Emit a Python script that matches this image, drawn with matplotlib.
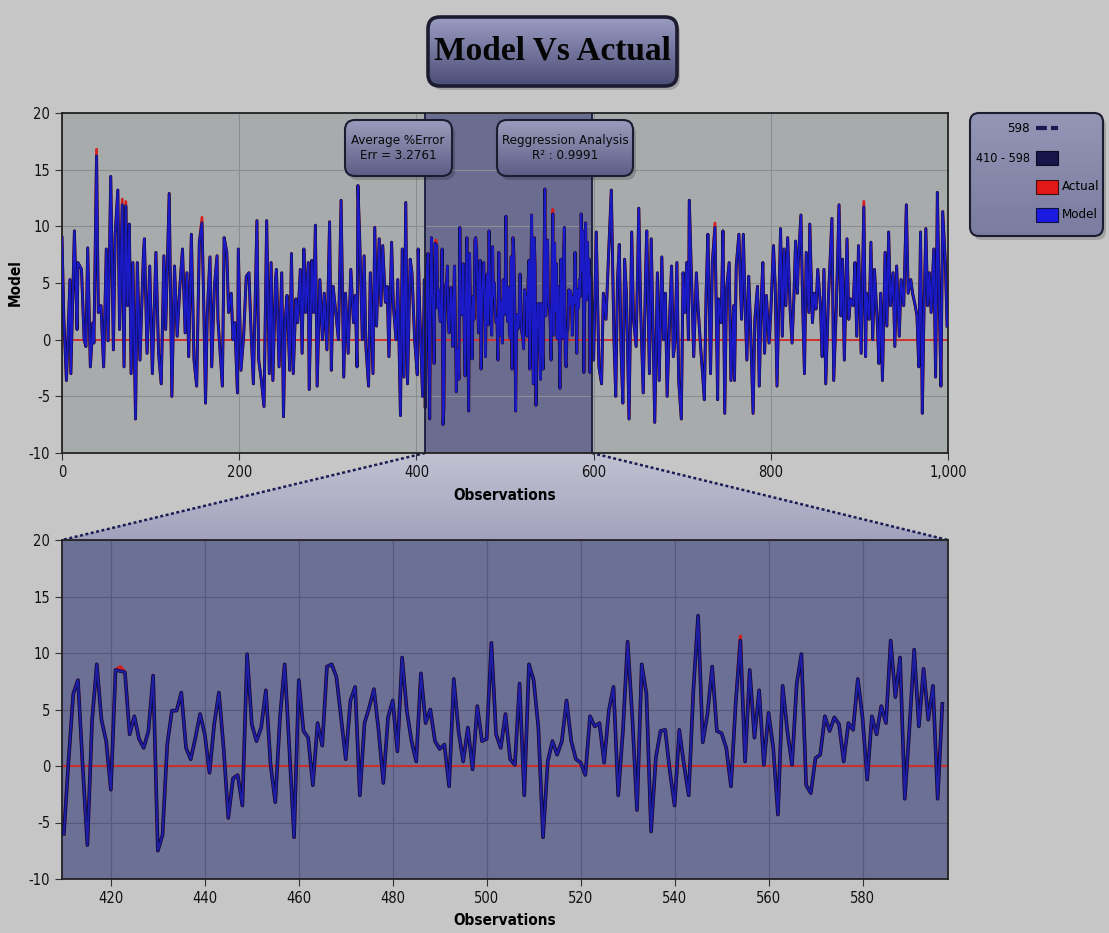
import numpy as np
import matplotlib
matplotlib.use("Agg")
import matplotlib.pyplot as plt
import matplotlib.patheffects as pe
from matplotlib.patches import FancyBboxPatch, Polygon, Rectangle
from matplotlib.colors import LinearSegmentedColormap

plt.rcParams['font.family'] = ['DejaVu Sans', 'Liberation Sans']
plt.rcParams['font.stretch'] = 'condensed'
plt.rcParams['axes.unicode_minus'] = False

# ---- data ----
# observations 0..409 (peaks/troughs as seen in the overview)
left_obs = [0, 2, 5, 9, 10, 14, 17, 18, 22, 25, 27, 29, 32, 35, 36, 39, 41, 44, 47, 50,
            52, 55, 58, 60, 63, 65, 68, 70, 72, 74, 76, 78, 80, 83, 85, 88, 92, 93, 96, 99,
            102, 106, 109, 112, 115, 117, 121, 124, 127, 130, 133, 136, 139, 141, 143, 146, 149, 152, 155, 158,
            160, 162, 164, 167, 169, 172, 175, 176, 179, 181, 183, 186, 188, 191, 193, 195, 198, 199, 202, 205,
            208, 211, 213, 216, 220, 222, 225, 228, 231, 234, 236, 238, 241, 242, 245, 248, 250, 252, 254, 257,
            259, 261, 264, 266, 269, 271, 273, 275, 278, 279, 282, 284, 286, 288, 291, 294, 296, 299, 302, 304,
            306, 309, 312, 315, 318, 320, 323, 326, 329, 331, 333, 334, 336, 339, 341, 343, 346, 348, 351, 353,
            355, 358, 360, 362, 365, 367, 369, 372, 374, 377, 379, 382, 384, 386, 388, 390, 393, 395, 398, 401,
            402, 404, 407, 409]
left_model = [9.0, 2.0, -3.6, 5.3, -3.0, 9.6, 0.9, 6.8, 6.2, 0.0, -0.6, 8.1, -2.4, 1.5, -0.3, 16.2, 2.4, 3.0, -2.4, 8.0,
              -0.1, 14.4, -0.9, 9.3, 13.2, 0.9, 11.9, -2.4, 11.8, 3.0, 10.2, -3.0, 6.8, -7.0, 6.8, -1.8, 7.7, 8.9, -1.2, 6.5,
              -3.0, 7.7, -1.2, -3.9, 7.4, 0.9, 12.9, -5.0, 6.5, 0.3, 4.7, 8.0, 0.6, 5.9, -1.5, 9.3, -1.8, -4.1, 8.6, 10.3,
              3.0, -5.6, 2.4, 7.3, -2.4, 4.7, 7.4, 1.8, -1.8, -4.1, 9.0, 7.7, 2.4, 4.1, 0.0, 1.5, -4.7, 8.0, -2.7, 0.3,
              5.6, 5.9, 1.5, -3.9, 10.5, -1.8, -3.6, -5.9, 10.5, -3.0, 6.8, -3.6, 5.3, 6.2, -2.4, 5.9, -6.8, 1.8, 3.9, -2.7,
              7.6, -3.0, 3.6, 1.5, 6.2, -1.2, 8.0, 2.4, 6.8, -4.4, 7.0, 2.4, 10.1, -4.1, 5.3, 0.0, 4.1, -0.9, 10.4, -2.7,
              4.7, 2.4, 0.0, 12.3, -3.3, 4.1, -1.2, 6.2, 1.5, 3.9, -2.4, 13.6, 8.9, 0.0, 7.4, -0.6, -4.1, 5.9, -3.0, 9.9,
              1.2, 8.9, 3.0, 8.3, 3.3, 4.7, -1.5, 8.6, 3.0, 0.0, 5.3, -6.7, 8.0, -3.3, 12.1, -3.9, 7.1, 5.9, 0.0, -3.1,
              8.0, 1.8, -5.0, 5.3]

# observations 410..597, every point
zoom_start = 410
zoom_model = [
    -6.0, 0.5, 6.4, 7.6, 0.0, -7.0, 4.0, 9.0, 4.1, 2.2,
    -2.1, 8.5, 8.4, 8.3, 2.8, 4.4, 2.4, 1.6, 3.1, 8.0,
    -7.5, -6.1, 1.9, 4.9, 4.9, 6.5, 1.6, 0.6, 2.5, 4.6,
    2.8, -0.6, 3.7, 6.5, 1.6, -4.6, -1.1, -0.8, -3.5, 9.9,
    3.7, 2.2, 3.4, 6.7, 0.1, -3.2, 4.3, 9.0, 1.5, -6.3,
    7.6, 3.1, 2.5, -1.7, 3.8, 1.8, 8.8, 9.0, 7.9, 4.3,
    0.6, 5.8, 7.0, -2.6, 3.8, 5.2, 6.8, 3.1, -1.5, 4.3,
    5.8, 1.3, 9.6, 4.9, 2.2, 0.4, 8.2, 3.8, 5.0, 2.2,
    1.5, 1.9, -1.8, 7.7, 3.1, 0.4, 3.4, -0.3, 5.3, 2.2,
    2.4, 10.9, 2.8, 1.6, 4.6, 0.6, 0.1, 7.3, -2.6, 9.0,
    7.6, 3.4, -6.3, 0.4, 2.2, 1.0, 2.2, 5.8, 2.2, 0.6,
    0.3, -0.8, 4.4, 3.5, 3.8, 0.3, 4.9, 7.0, -2.6, 3.1,
    11.0, 4.3, -3.9, 9.0, 6.4, -5.8, 0.7, 3.1, 3.2, -0.5,
    -3.5, 3.2, 0.1, -2.6, 6.7, 13.3, 2.1, 4.6, 8.8, 3.1,
    2.9, 1.6, -1.8, 5.5, 11.1, 0.4, 8.5, 2.5, 6.7, 0.1,
    4.7, 1.6, -4.3, 7.1, 3.1, 0.1, 7.3, 9.9, -1.7, -2.4,
    0.7, 1.0, 4.4, 3.1, 4.3, 3.7, 0.4, 3.8, 3.2, 7.7,
    4.3, -1.2, 4.4, 2.8, 5.3, 3.8, 11.1, 6.1, 9.6, -2.9,
    3.4, 10.3, 3.5, 8.6, 4.1, 7.1, -2.9, 5.5]

# observations 600..999 (overview)
right_obs = [600, 603, 606, 609, 611, 614, 617, 620, 623, 625, 627, 629, 631, 633, 635, 637, 640, 643, 645, 648,
             651, 653, 656, 659, 660, 663, 665, 667, 669, 672, 674, 677, 679, 681, 683, 686, 688, 690, 692, 694,
             696, 699, 701, 703, 705, 707, 708, 711, 713, 716, 718, 721, 723, 725, 727, 729, 732, 734, 737, 740,
             741, 744, 746, 748, 750, 753, 755, 758, 759, 761, 764, 767, 769, 771, 773, 775, 777, 780, 782, 785,
             787, 789, 791, 793, 795, 798, 800, 803, 805, 807, 811, 813, 815, 817, 819, 822, 824, 826, 828, 830,
             831, 834, 836, 838, 840, 843, 844, 847, 849, 851, 853, 856, 858, 860, 862, 865, 867, 869, 871, 874,
             877, 879, 881, 883, 886, 888, 890, 893, 895, 897, 899, 902, 905, 907, 908, 911, 913, 915, 917, 920,
             922, 924, 926, 929, 931, 933, 935, 938, 940, 942, 945, 947, 950, 953, 955, 958, 960, 963, 965, 967,
             969, 971, 973, 975, 977, 979, 981, 984, 986, 988, 990, 992, 994, 997, 999]
right_model = [-1.8, 9.5, -2.4, -3.9, 4.1, 1.8, 7.7, 13.2, 0.0, -5.0, 5.3, 8.4, -0.9, -5.6, 7.1, 4.1, -7.0, 9.5, 1.8, -0.6,
               11.6, 3.0, -4.7, 6.8, 9.6, -3.0, 8.9, 1.2, -7.3, 5.9, -3.6, 7.3, 0.0, 4.1, -5.0, 2.4, 6.5, -1.5, 0.0, 6.8,
               -3.6, -7.0, 5.9, 2.4, 6.8, 0.0, 12.3, 4.1, -1.5, 5.9, 2.7, -0.9, -3.0, -5.3, 4.1, 9.3, -3.0, 6.8, 9.9, -5.3,
               3.6, 1.5, 9.6, -6.5, 4.4, 6.8, -3.6, 3.0, -3.6, 6.5, 9.3, 1.8, 9.3, 3.0, -1.8, 5.6, 1.5, -6.5, 1.8, 4.7,
               -4.1, 3.0, 6.8, -1.2, 3.9, -0.3, 2.4, 8.3, 4.7, -4.1, 9.8, 0.3, 8.0, 3.0, 9.0, 2.4, -0.3, 3.6, 8.7, 4.1,
               6.8, 11.0, 3.0, -3.0, 7.7, 2.4, 10.2, 1.5, 4.1, 2.7, 6.2, 3.0, -1.5, 6.2, -3.9, 3.6, 7.1, 10.7, -3.6, 3.0,
               11.9, 2.1, 7.1, -1.8, 8.9, 1.8, 3.6, 3.0, 6.8, 0.3, 8.3, -1.2, 11.7, -1.5, 4.1, 1.8, 8.6, 0.0, 6.2, 1.8,
               -2.1, 4.1, -3.6, 7.7, 1.2, 9.5, 3.0, 5.9, -0.6, 6.5, 0.3, 5.3, 3.0, 11.9, 4.1, 5.3, 4.1, 3.0, 2.1, -2.4,
               9.5, -6.5, 3.0, 9.8, 3.0, 5.9, 2.4, 8.0, -3.3, 13.0, 4.1, -4.1, 11.3, 6.8, 1.2]

# where the red "Actual" series pokes out from under the model line
actual_fix_obs = [39, 68, 72, 158, 422, 554, 737, 905]
actual_fix_vals = [16.8, 12.4, 12.2, 10.8, 8.8, 11.5, 10.3, 12.2]

band_lo, band_hi = 410, 598
err_label = "Average %Error\nErr = 3.2761"
reg_label = "Reggression Analysis\nR\u00b2 : 0.9991"
legend_rows = ["598", "410 - 598", "Actual", "Model"]

zoom_obs = list(range(zoom_start, zoom_start + len(zoom_model)))
obs = np.array(left_obs + zoom_obs + right_obs)
model = np.array(left_model + zoom_model + right_model)
actual = model.copy()
for o, v in zip(actual_fix_obs, actual_fix_vals):
    actual[obs == o] = v

# ---- figure ----
W, H = 1109, 933
fig = plt.figure(figsize=(W / 100, H / 100), dpi=100, facecolor='#c6c6c6')


def px(l, t, r, b):
    return [l / W, 1 - b / H, (r - l) / W, (b - t) / H]


ax1 = fig.add_axes(px(62, 113, 948, 453))
ax2 = fig.add_axes(px(62, 540, 948, 879))
bg = fig.add_axes([0, 0, 1, 1], zorder=-1)
fg = fig.add_axes([0, 0, 1, 1], zorder=5)
for a in (bg, fg):
    a.axis('off')
    a.set_xlim(0, W)
    a.set_ylim(H, 0)
    a.patch.set_alpha(0)

stroke = [pe.Stroke(linewidth=2.1, foreground='#0e0e45'), pe.Normal()]
tick_kw = dict(direction='out', length=5, color='#333333', labelsize=10.5, labelcolor='#111111')

# top overview
ax1.set_facecolor('#a7abac')
ax1.axvspan(band_lo, band_hi, color='#6a6d90', zorder=0.5, lw=0)
ax1.plot(obs, actual, color='#d42020', lw=2.0, zorder=2)
ax1.axhline(0, color='#d03030', lw=1.4, zorder=2.5)
ax1.plot(obs, model, color='#1a1ac8', lw=1.3, zorder=3, path_effects=stroke)
for x in (band_lo, band_hi):
    ax1.axvline(x, color='#1a1a3a', lw=1.3, zorder=4)
ax1.set_xlim(0, 1000)
ax1.set_ylim(-10, 20)
ax1.set_xticks(range(0, 1001, 200))
ax1.set_xticklabels([f"{v:,}" for v in range(0, 1001, 200)])
ax1.set_yticks(range(-10, 21, 5))
ax1.grid(True, color='#8a8e90', lw=0.8)
ax1.set_axisbelow(True)
ax1.tick_params(**tick_kw)
ax1.set_xlabel('Observations', fontsize=11, fontweight='bold', labelpad=6)
ax1.set_ylabel('Model', fontsize=11, fontweight='bold', labelpad=4)

# bottom zoom
zmask = (obs >= band_lo) & (obs < band_hi)
ax2.set_facecolor('#6d7095')
ax2.plot(obs[zmask], actual[zmask], color='#d42020', lw=2.3, zorder=2)
ax2.axhline(0, color='#c83030', lw=1.5, zorder=2.5)
ax2.plot(obs[zmask], model[zmask], color='#1e1ea6', lw=1.4, zorder=3,
         path_effects=[pe.Stroke(linewidth=2.6, foreground='#0c0c40'), pe.Normal()])
ax2.set_xlim(409.6, 598.2)
ax2.set_ylim(-10, 20)
ax2.set_xticks(range(420, 581, 20))
ax2.set_yticks(range(-10, 21, 5))
ax2.grid(True, color='#56597c', lw=0.9)
ax2.set_axisbelow(True)
ax2.tick_params(**tick_kw)
ax2.set_xlabel('Observations', fontsize=11, fontweight='bold', labelpad=5)

for a in (ax1, ax2):
    for s in a.spines.values():
        s.set_color('#222222')
        s.set_linewidth(1.3)

# funnel between the band and the zoom panel
to_px = bg.transData.inverted()
p1 = to_px.transform(ax1.transData.transform((band_lo, -10)))
p2 = to_px.transform(ax1.transData.transform((band_hi, -10)))
x0, x1 = ax2.get_xlim()
q1 = to_px.transform(ax2.transData.transform((x0, 20)))
q2 = to_px.transform(ax2.transData.transform((x1, 20)))
funnel = Polygon([p1, p2, q2, q1], closed=True, facecolor='none', edgecolor='none')
bg.add_patch(funnel)
fcmap = LinearSegmentedColormap.from_list('f', ['#c2c2d2', '#a2a2be'])
im = bg.imshow(np.linspace(0, 1, 64).reshape(-1, 1), cmap=fcmap, aspect='auto',
               extent=(q1[0], q2[0], q1[1], p1[1]), origin='upper', zorder=1)
im.set_clip_path(funnel)
for a, b in ((p1, q1), (p2, q2)):
    bg.plot([a[0], b[0]], [a[1], b[1]], color='#1c1c55', lw=1.8, ls=(0, (1.2, 1.0)), zorder=2)


def grad_box(ax, l, t, r, b, top, bottom, lw=1.5, rad=10, z=6):
    box = FancyBboxPatch((l, t), r - l, b - t, boxstyle=f"round,pad=0,rounding_size={rad}",
                         facecolor='none', edgecolor='#1c1c30', lw=lw, zorder=z + 1)
    shadow = FancyBboxPatch((l + 3, t + 4), r - l, b - t, boxstyle=f"round,pad=0,rounding_size={rad}",
                            facecolor='#000000', alpha=0.18, edgecolor='none', zorder=z - 1)
    ax.add_patch(shadow)
    ax.add_patch(box)
    cm = LinearSegmentedColormap.from_list('g', [top, bottom])
    g = ax.imshow(np.linspace(0, 1, 64).reshape(-1, 1), cmap=cm, aspect='auto',
                  extent=(l, r, b, t), origin='upper', zorder=z)
    g.set_clip_path(box)


# title
grad_box(fg, 428, 17, 677, 86, '#9a9cc2', '#4c4e78', lw=2.6, rad=12)
fg.text(552, 51, 'Model Vs Actual', ha='center', va='center', fontsize=24, fontweight='bold',
        family=['Liberation Serif', 'DejaVu Serif'], fontstretch='normal', color='#050505', zorder=9)

# annotation boxes
grad_box(fg, 345, 120, 452, 176, '#9a9cbc', '#5c5e86')
fg.text(398, 148, err_label, ha='center', va='center', fontsize=9.5, linespacing=1.15,
        color='#0a0a0a', zorder=9)
grad_box(fg, 497, 120, 633, 176, '#9a9cbc', '#5c5e86')
fg.text(565, 148, reg_label, ha='center', va='center', fontsize=9.5, linespacing=1.15,
        color='#0a0a0a', zorder=9)

# legend
grad_box(fg, 970, 113, 1103, 236, '#9496b6', '#7a7ca0', lw=1.5, rad=9)
fg.text(1030, 128, legend_rows[0], ha='right', va='center', fontsize=9.5, zorder=9)
fg.plot([1036, 1058], [128, 128], color='#1a1a50', lw=3, ls=(0, (2.6, 1.0)), zorder=9,
        solid_capstyle='butt', dash_capstyle='butt')
fg.text(1030, 158, legend_rows[1], ha='right', va='center', fontsize=9, zorder=9)
fg.add_patch(Rectangle((1036, 151), 22, 14, facecolor='#15154a', edgecolor='#0a0a20', lw=0.8, zorder=9))
fg.add_patch(Rectangle((1036, 180), 22, 14, facecolor='#e01818', edgecolor='#401010', lw=0.8, zorder=9))
fg.text(1062, 187, legend_rows[2], ha='left', va='center', fontsize=9.5, zorder=9)
fg.add_patch(Rectangle((1036, 208), 22, 14, facecolor='#1a1ae0', edgecolor='#101040', lw=0.8, zorder=9))
fg.text(1062, 215, legend_rows[3], ha='left', va='center', fontsize=9.5, zorder=9)

for a in (bg, fg):
    a.set_xlim(0, W)
    a.set_ylim(H, 0)

fig.savefig('out.png', dpi=100, facecolor=fig.get_facecolor())
